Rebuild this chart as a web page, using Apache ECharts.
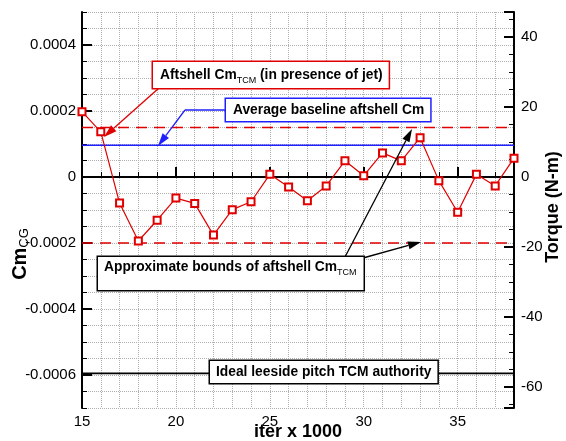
<!DOCTYPE html>
<html>
<head>
<meta charset="utf-8">
<script src="https://cdn.jsdelivr.net/npm/echarts@6/dist/echarts.min.js"></script>
<style>
html,body{margin:0;padding:0;background:#fff;}
#c{width:566px;height:441px;}
</style>
</head>
<body>
<div id="c"></div>
<script>
// ---- data ----
const iters = [15,16,17,18,19,20,21,22,23,24,25,26,27,28,29,30,31,32,33,34,35,36,37,38];
const cmTCM = [0.000198,0.000137,-0.000079,-0.000194,-0.000131,-0.000064,-0.000080,-0.000176,-0.000099,-0.000075,0.000008,-0.000030,-0.000072,-0.000027,0.000049,0.000004,0.000073,0.000049,0.000119,-0.000011,-0.000107,0.000008,-0.000027,0.000057];
const baselineAvg = 0.000096;
const boundsUpper = 0.00015;
const boundsLower = -0.0002;
const idealAuthority = -0.000595;
const cmMin = -0.0007, cmMax = 0.0005;
const xMin = 15, xMax = 38;
const torquePerCm = 94300;

const FONT = 'Liberation Sans, Arial, Helvetica, sans-serif';
const RED = '#e00000', BLUE = '#2020ff', GRID = '#b0b0b0';

function fmtCm(v){
  const k = Math.round(v/0.0002);
  if (Math.abs(k*0.0002 - v) > 1e-9) return '';
  if (k === 0) return '0';
  return (k*0.0002).toFixed(4);
}

function arrow(x1,y1,x2,y2,color,w){
  const dx=x2-x1, dy=y2-y1, L=Math.sqrt(dx*dx+dy*dy);
  const ux=dx/L, uy=dy/L, hl=13, hw=4;
  const bx=x2-ux*hl, by=y2-uy*hl;
  return [
    {type:'line', shape:{x1:x1,y1:y1,x2:bx,y2:by}, style:{stroke:color,lineWidth:w||1.3}, z:100},
    {type:'polygon', shape:{points:[[x2,y2],[bx-uy*hw,by+ux*hw],[bx+uy*hw,by-ux*hw]]}, style:{fill:color}, z:100}
  ];
}

const chart = echarts.init(document.getElementById('c'), null, {renderer:'canvas'});
const gridLineX = {show:true, lineStyle:{color:GRID, type:'dotted', width:1}};
const gridLineY = {show:true, lineStyle:{color:GRID, type:'dotted', width:1}};
const lbl = {color:'#000', fontSize:15, fontFamily:FONT};

const subRich = function(){
  return {
    a:{fontFamily:FONT, fontSize:13.8, fontWeight:'bold', fill:'#000', color:'#000', lineHeight:20, verticalAlign:'middle'},
    s:{fontFamily:FONT, fontSize:9, fill:'#000', color:'#000', lineHeight:11, verticalAlign:'bottom'}
  };
};

const graphics = [
  {type:'text', x:298, y:432, style:{text:'iter x 1000', font:'bold 18px '+FONT, fill:'#000', align:'center', verticalAlign:'middle'}},
  {type:'text', x:553, y:207, rotation:Math.PI/2, style:{text:'Torque (N-m)', font:'bold 18px '+FONT, fill:'#000', align:'center', verticalAlign:'middle'}},
  {type:'text', x:20, y:254, rotation:Math.PI/2, style:{text:'{a|Cm}{s|CG}', align:'center', verticalAlign:'middle',
     rich:{a:{fontFamily:FONT,fontSize:20,fontWeight:'bold',fill:'#000',lineHeight:22,verticalAlign:'middle'}, s:{fontFamily:FONT,fontSize:13,fill:'#000',lineHeight:14,verticalAlign:'bottom'}}}},
  {type:'text', x:153, y:62, z:110, style:{text:'{a|Aftshell Cm}{s|TCM}{a| (in presence of jet)}', align:'left', verticalAlign:'top',
     backgroundColor:'#fff', borderColor:RED, borderWidth:1.5, padding:[3,6,3,7], rich:subRich()}},
  {type:'text', x:226, y:99, z:110, style:{text:'{a|Average baseline aftshell Cm}', align:'left', verticalAlign:'top',
     backgroundColor:'#fff', borderColor:BLUE, borderWidth:1.5, padding:[1,6,1,7], rich:subRich()}},
  {type:'text', x:98, y:257, z:110, style:{text:'{a|Approximate bounds of aftshell Cm}{s|TCM}', align:'left', verticalAlign:'top',
     backgroundColor:'#fff', borderColor:'#000', borderWidth:1.5, padding:[0,7,13,6], rich:subRich()}},
  {type:'text', x:210, y:361, z:110, style:{text:'{a|Ideal leeside pitch TCM authority}', align:'left', verticalAlign:'top',
     backgroundColor:'#fff', borderColor:'#000', borderWidth:1.5, padding:[1,6,1,6], rich:subRich()}},
  {type:'polyline', shape:{points:[[226,110],[185,110]]}, style:{stroke:BLUE,lineWidth:1.3,fill:null}, z:100}
].concat(
  arrow(159,88,104,137,RED),
  arrow(185,110,158,146,BLUE),
  arrow(345,257,412,129,'#000'),
  arrow(363,258,421,242,'#000')
);

const refLine = (v, color, dashed) => ({
  type:'line', xAxisIndex:0, yAxisIndex:0, z:4, symbol:'none', silent:true,
  data:[[xMin, v],[xMax, v]],
  lineStyle:{color:color, width:1.6, type: dashed ? [11,7] : 'solid', dashOffset:0}
});

const option = {
  animation:false,
  backgroundColor:'#fff',
  grid:{left:82, right:52, top:12, bottom:33, containLabel:false},
  xAxis:[
    {type:'value', min:xMin, max:xMax, interval:1, position:'bottom',
     axisLine:{show:true, lineStyle:{color:'#000', width:2}},
     axisTick:{show:true, inside:true, length:5, lineStyle:{color:'#000', width:1}},
     axisLabel:{...lbl, margin:6, formatter:v => (Math.round(v)%5===0 ? String(Math.round(v)) : '')},
     splitLine:gridLineX},
    {type:'value', min:xMin, max:xMax, interval:5, position:'bottom',
     axisLine:{show:false}, axisLabel:{show:false}, splitLine:{show:false},
     axisTick:{show:true, inside:true, length:10, lineStyle:{color:'#000', width:2}}}
  ],
  yAxis:[
    {type:'value', min:cmMin, max:cmMax, interval:0.00005, position:'left',
     axisLine:{show:true, lineStyle:{color:'#000', width:2}},
     axisTick:{show:true, inside:true, length:5, lineStyle:{color:'#000', width:1}},
     axisLabel:{show:false}, splitLine:gridLineY},
    {type:'value', min:cmMin, max:cmMax, splitNumber:6, position:'left',
     axisLine:{show:false}, splitLine:{show:false},
     axisTick:{show:true, inside:true, length:10, lineStyle:{color:'#000', width:2}},
     axisLabel:{...lbl, margin:6, showMinLabel:false, showMaxLabel:false, formatter:fmtCm}},
    {type:'value', min:cmMin*torquePerCm, max:cmMax*torquePerCm, splitNumber:6, position:'right',
     axisLine:{show:true, lineStyle:{color:'#000', width:2}},
     axisTick:{show:true, inside:true, length:10, lineStyle:{color:'#000', width:2}},
     minorTick:{show:true, splitNumber:4, length:5, lineStyle:{color:'#000', width:1}},
     splitLine:{show:false},
     axisLabel:{...lbl, margin:7, showMinLabel:false, showMaxLabel:false, formatter:v => String(Math.round(v))}}
  ],
  series:[
    refLine(boundsUpper, RED, true),
    refLine(boundsLower, RED, true),
    refLine(baselineAvg, BLUE, false),
    refLine(idealAuthority, '#000', false),
    {type:'line', xAxisIndex:0, yAxisIndex:0, z:5,
     data:iters.map((x,i)=>[x, cmTCM[i]]),
     symbol:'emptyRect', symbolSize:7,
     lineStyle:{color:RED, width:1.2},
     itemStyle:{color:RED, borderColor:RED, borderWidth:1.3}}
  ],
  graphic:graphics
};
chart.setOption(option);
</script>
</body>
</html>
